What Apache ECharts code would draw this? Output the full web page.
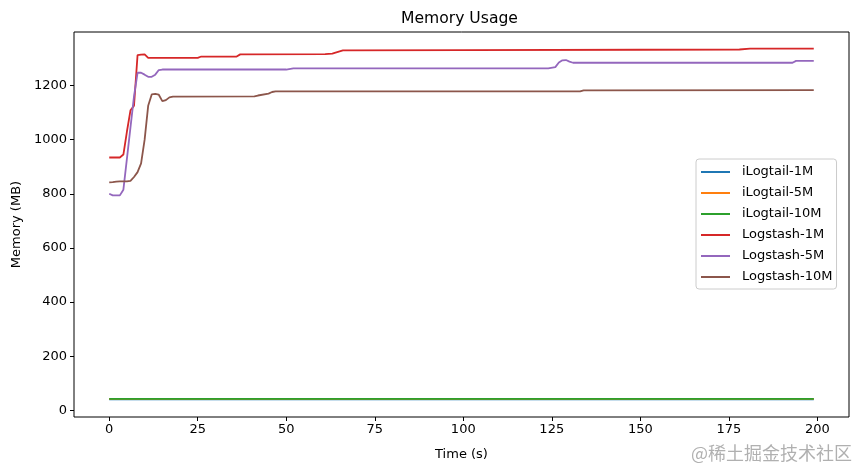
<!DOCTYPE html>
<html>
<head>
<meta charset="utf-8">
<script src="https://cdn.jsdelivr.net/npm/echarts@6/dist/echarts.min.js"></script>
<style>html,body{margin:0;padding:0;background:#fff;}#c{width:859px;height:470px;}</style>
</head>
<body>
<div id="c"></div>
<script>
// ---- data (time in s, memory in MB) ----
const seriesNames = ['iLogtail-1M', 'iLogtail-5M', 'iLogtail-10M', 'Logstash-1M', 'Logstash-5M', 'Logstash-10M'];
const xTicks = [0, 25, 50, 75, 100, 125, 150, 175, 200];
const yTicks = [0, 200, 400, 600, 800, 1000, 1200];

const ilogtail1M = [[0,41],[50,41],[100,41],[150,41],[199,41]];
const ilogtail5M = [[0,42.5],[50,42.5],[100,42.5],[150,42.5],[199,42.5]];
const ilogtail10M = [[0,42],[50,42],[100,42],[150,42],[199,42]];

const logstash1M = [[0,934],[1,934],[2,934],[3,934],[4,945],[5,1030],[6,1108],[7,1125],[8,1312],[9,1314],[10,1315],
  [11,1302],[25,1302],[26,1307],[36,1307],[37,1315],[61,1316],[63,1318],[66,1330],[100,1331],[150,1332],[178,1333],[181,1336],[199,1336]];

const logstash5M = [[0,800],[1,794],[2,794],[3,794],[4,815],[5,930],[6,1045],[7,1160],[8,1247],[9,1247],[10,1240],
  [11,1232],[12,1232],[13,1240],[14,1257],[15,1259],[50,1259],[52,1263],[124,1263],[126,1268],[127,1285],[128,1293],
  [129,1294],[130,1288],[131,1284],[160,1284],[193,1284],[194,1291],[199,1291]];

const logstash10M = [[0,842],[1,843],[2,845],[3,846],[5,846],[6,848],[7,862],[8,880],[9,912],[10,1000],[11,1125],
  [12,1167],[13,1169],[14,1166],[15,1142],[16,1146],[17,1156],[18,1159],[41,1160],[42,1163],[45,1170],[46,1176],
  [47,1178],[133,1178],[134,1182],[199,1183]];

const allData = [ilogtail1M, ilogtail5M, ilogtail10M, logstash1M, logstash5M, logstash10M];
const colors = ['#1f77b4', '#ff7f0e', '#2ca02c', '#d62728', '#9467bd', '#8c564b'];

const FONT = 'DejaVu Sans';
const chart = echarts.init(document.getElementById('c'), null, {renderer: 'canvas'});
chart.setOption({
  animation: false,
  backgroundColor: '#fff',
  color: colors,
  title: {
    text: 'Memory Usage', left: 401, top: 11, padding: 0,
    textStyle: {fontSize: 15.6, fontWeight: 'normal', color: '#000', fontFamily: FONT}
  },
  grid: {left: 74, right: 10, top: 32, bottom: 53, show: true, borderColor: '#000', borderWidth: 1,
    containLabel: false, outerBoundsMode: 'none'},
  legend: {
    orient: 'vertical', left: 696, top: 159,
    icon: 'rect', itemWidth: 29, itemHeight: 2, itemGap: 7,
    backgroundColor: '#fff', borderColor: '#cccccc', borderWidth: 1, borderRadius: 3,
    padding: [6, 4, 5, 5],
    textStyle: {fontSize: 13, color: '#000', fontFamily: FONT, lineHeight: 14, padding: [0, 0, 0, 7]},
    data: seriesNames
  },
  xAxis: {
    type: 'value', min: -9.95, max: 208.95,
    name: 'Time (s)', nameLocation: 'middle', nameGap: 31,
    nameTextStyle: {fontSize: 13, color: '#000', fontFamily: FONT},
    axisLine: {show: false, onZero: false},
    axisTick: {show: true, length: 4, lineStyle: {color: '#000', width: 1}, customValues: xTicks},
    axisLabel: {color: '#000', fontSize: 13, fontFamily: FONT, margin: 6, customValues: xTicks,
      formatter: v => String(v)},
    splitLine: {show: false}
  },
  yAxis: {
    type: 'value', min: -24.6, max: 1397.6,
    name: 'Memory (MB)', nameLocation: 'middle', nameGap: 50,
    nameTextStyle: {fontSize: 13, color: '#000', fontFamily: FONT},
    axisLine: {show: false, onZero: false},
    axisTick: {show: true, length: 4, lineStyle: {color: '#000', width: 1}, customValues: yTicks},
    axisLabel: {color: '#000', fontSize: 13, fontFamily: FONT, margin: 7, customValues: yTicks,
      formatter: v => String(v)},
    splitLine: {show: false}
  },
  graphic: [{
    type: 'text', right: 7, top: 444,
    style: {text: '@稀土掘金技术社区', fontSize: 18, fontFamily: 'Noto Sans CJK SC', fill: 'rgba(150,150,150,0.75)'}
  }],
  series: seriesNames.map((n, i) => ({
    name: n, type: 'line', data: allData[i], showSymbol: false, symbol: 'none',
    lineStyle: {width: 1.8, color: colors[i]}, itemStyle: {color: colors[i]}
  }))
});
</script>
</body>
</html>
